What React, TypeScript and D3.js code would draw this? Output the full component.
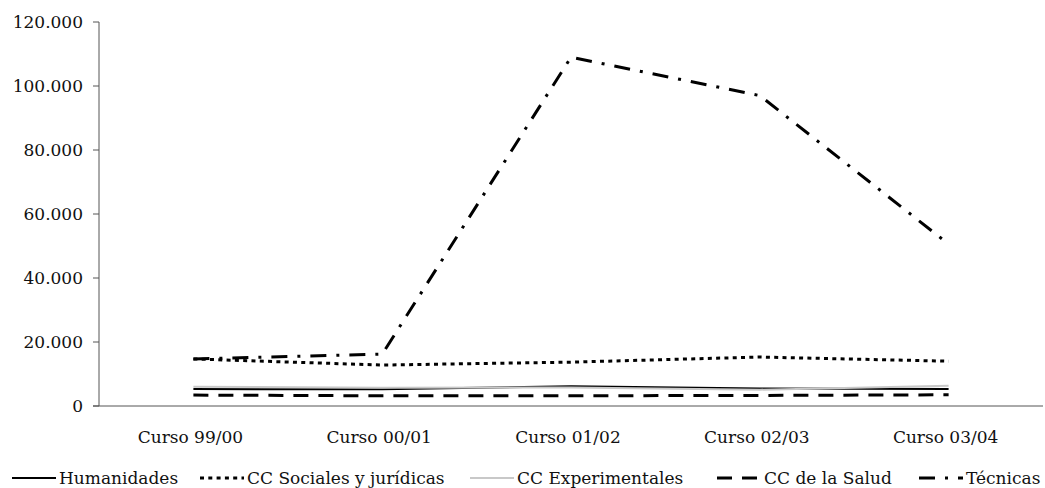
import React, { useEffect, useRef } from "react";
import * as d3 from "d3";

const categories = ["Curso 99/00", "Curso 00/01", "Curso 01/02", "Curso 02/03", "Curso 03/04"];
const humanidades = [5300, 5200, 6200, 5500, 5300];
const sociales = [14700, 12800, 13700, 15300, 14000];
const experimentales = [6000, 5700, 5800, 5100, 6300];
const salud = [3400, 3200, 3200, 3300, 3500];
const tecnicas = [14700, 16200, 109000, 97000, 50600];
const yTicks = [0, 20000, 40000, 60000, 80000, 100000, 120000];

const seriesNames = ["Humanidades", "CC Sociales y jurídicas", "CC Experimentales", "CC de la Salud", "Técnicas"];
const seriesValues = [humanidades, sociales, experimentales, salud, tecnicas];
const seriesStyle = [
  { color: "#000", width: 2, dash: "" },
  { color: "#000", width: 3, dash: "4,4.3" },
  { color: "#c8c8c8", width: 2, dash: "" },
  { color: "#000", width: 3, dash: "15,10" },
  { color: "#000", width: 3, dash: "16,10,3,10" },
];
const legendX = [12, 200, 470, 717, 919];

const W = 1045, H = 488;
const left = 99, right = 1043, top = 22, bottom = 406;

export default function App() {
  const ref = useRef<SVGSVGElement>(null);
  useEffect(() => {
    const svg = d3.select(ref.current);
    svg.selectAll("*").remove();
    const font = "'DejaVu Serif', serif";
    const fs = 17;
    const x = d3.scaleBand().domain(categories).range([left, right]);
    const y = d3.scaleLinear().domain([0, 120000]).range([bottom, top]);
    const fmt = (v: number) => d3.format(",")(v).replace(/,/g, ".");

    svg.append("line").attr("x1", left).attr("x2", left).attr("y1", top).attr("y2", bottom).attr("stroke", "#555").attr("stroke-width", 1);
    svg.append("line").attr("x1", left - 6).attr("x2", right).attr("y1", bottom).attr("y2", bottom).attr("stroke", "#555").attr("stroke-width", 1);
    yTicks.forEach((t) => {
      svg.append("line").attr("x1", left - 6).attr("x2", left).attr("y1", y(t)).attr("y2", y(t)).attr("stroke", "#555");
      svg.append("text").attr("x", left - 16).attr("y", y(t)).attr("dy", "0.35em").attr("text-anchor", "end")
        .attr("font-family", font).attr("font-size", fs).attr("fill", "#111").text(fmt(t));
    });
    categories.forEach((c) => {
      svg.append("text").attr("x", x(c)! + x.bandwidth() / 2 - 3).attr("y", 443).attr("text-anchor", "middle")
        .attr("font-family", font).attr("font-size", fs).attr("fill", "#111").text(c);
    });

    const line = d3.line<number>().x((_, i) => x(categories[i])! + x.bandwidth() / 2).y((d) => y(d));
    seriesValues.forEach((vals, i) => {
      const s = seriesStyle[i];
      svg.append("path").attr("d", line(vals)!).attr("fill", "none").attr("stroke", s.color)
        .attr("stroke-width", s.width).attr("stroke-dasharray", s.dash || null);
    });

    seriesNames.forEach((n, i) => {
      const s = seriesStyle[i];
      const lx = legendX[i];
      svg.append("line").attr("x1", lx).attr("x2", lx + 44).attr("y1", 478).attr("y2", 478)
        .attr("stroke", s.color).attr("stroke-width", s.width).attr("stroke-dasharray", s.dash || null);
      svg.append("text").attr("x", lx + 47).attr("y", 478).attr("dy", "0.35em")
        .attr("font-family", font).attr("font-size", fs).attr("fill", "#111").text(n);
    });
  }, []);
  return (
    <>
      <style>{"body{margin:0}"}</style>
      <svg ref={ref} width={W} height={H} style={{ display: "block" }} />
    </>
  );
}
